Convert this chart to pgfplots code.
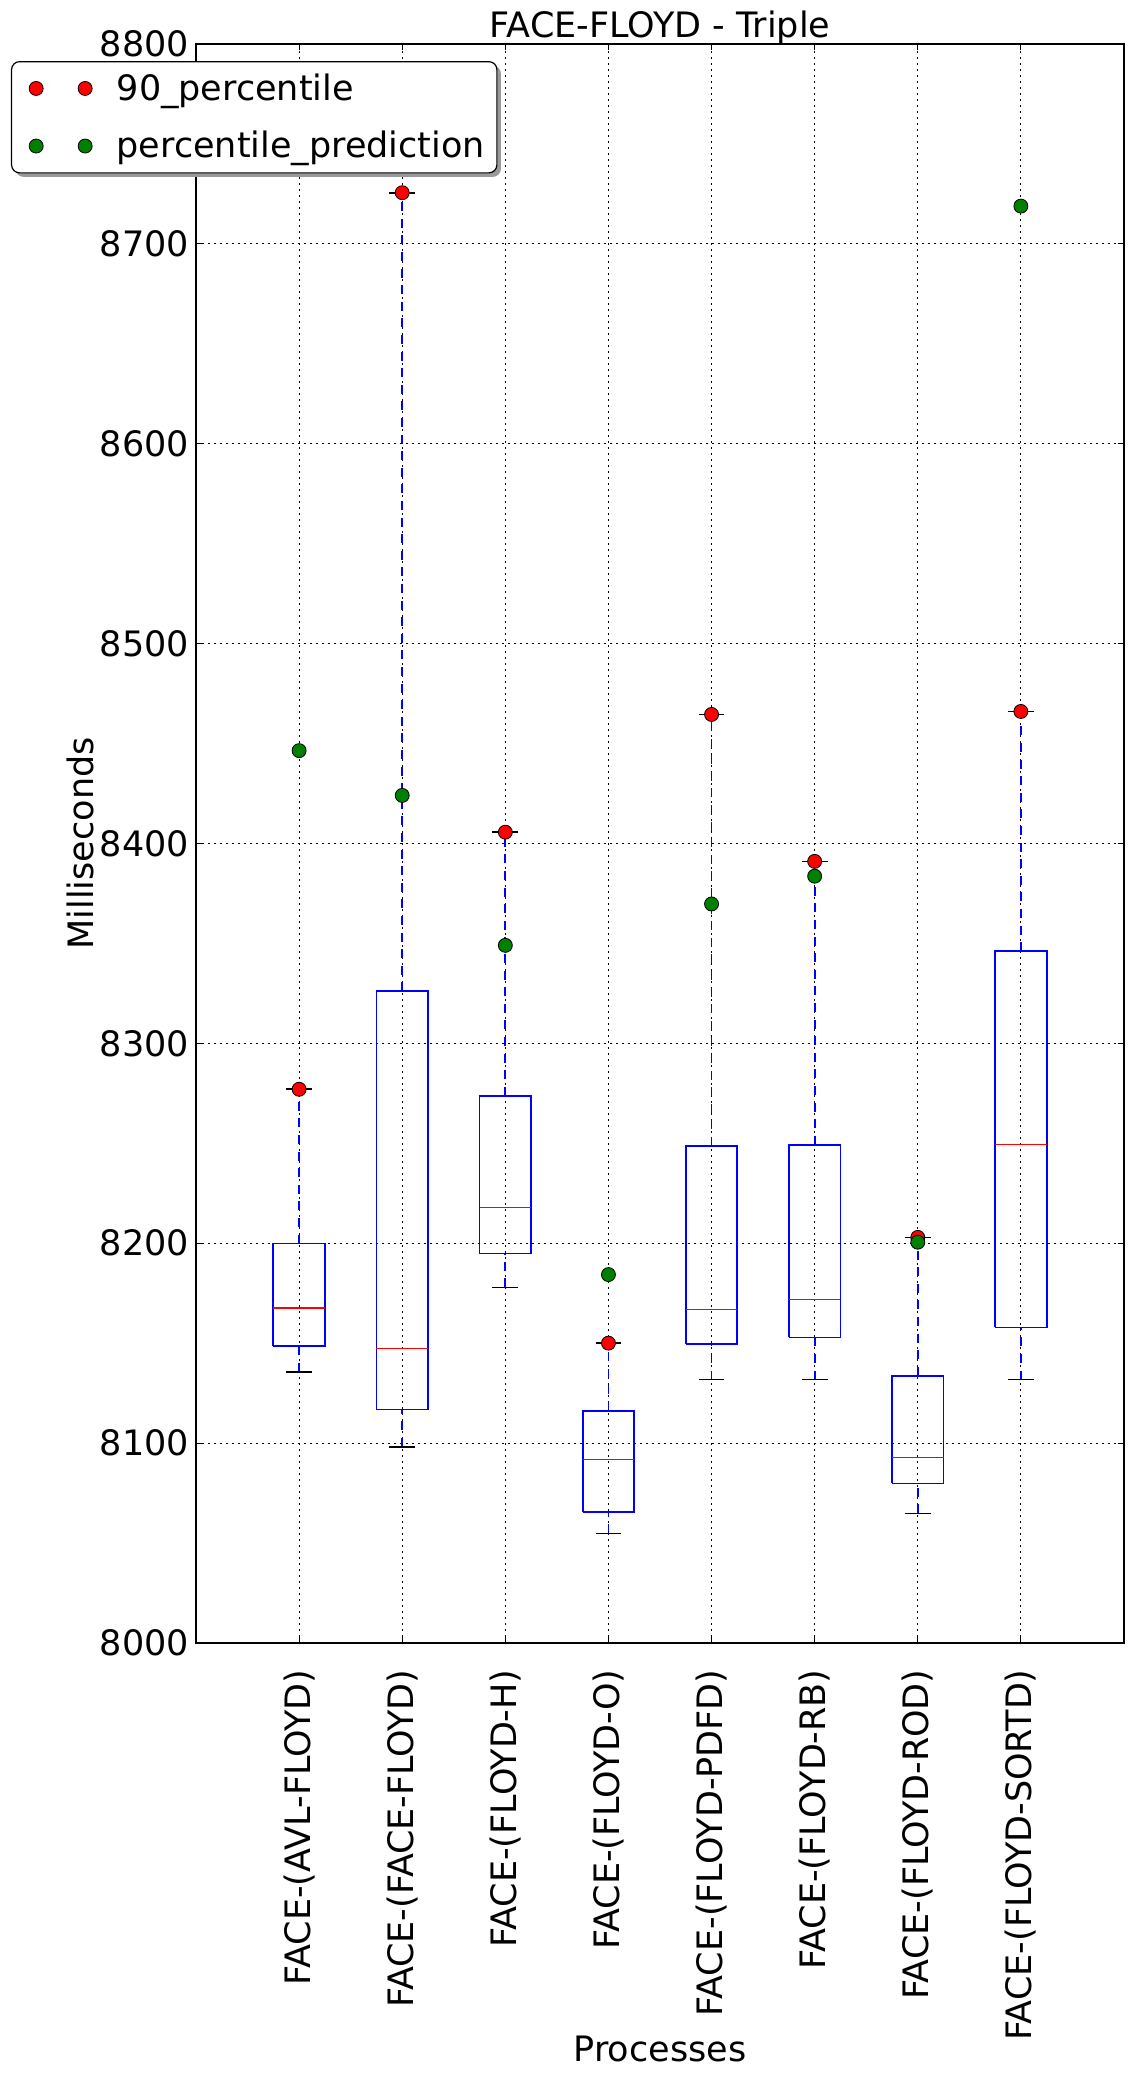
\documentclass[border=0pt]{standalone}
\usepackage{fontspec}
\setmainfont{DejaVu Sans}
\usepackage{pgfplots}
\pgfplotsset{compat=1.18}
\definecolor{mplgreen}{rgb}{0,0.5,0}
\newcommand{\fs}{\fontsize{17.5}{21}\selectfont}
\begin{document}
\begin{tikzpicture}
\useasboundingbox (0,0) rectangle (566.5pt,1039pt);
\begin{axis}[
  at={(98pt,217.5pt)}, anchor=south west,
  scale only axis, width=464pt, height=799.6pt,
  xmin=0, xmax=9, ymin=8000, ymax=8800,
  xtick={1,...,8},
  xticklabels={FACE-(AVL-FLOYD),FACE-(FACE-FLOYD),FACE-(FLOYD-H),FACE-(FLOYD-O),FACE-(FLOYD-PDFD),FACE-(FLOYD-RB),FACE-(FLOYD-ROD),FACE-(FLOYD-SORTD)},
  ytick={8000,8100,...,8800},
  /pgf/number format/assume math mode=true,
  yticklabel style={/pgf/number format/1000 sep={}, font=\fs},
  xticklabel style={rotate=90, anchor=east, font=\fs, inner sep=0pt},
  xticklabel shift=13pt,
  tick align=inside,
  major tick length=3pt,
  tick style={black, line width=0.5pt},
  axis line style={line width=0.85pt},
  grid=major,
  grid style={black, line width=0.45pt, dash pattern=on 0.8pt off 2.2pt},
  unbounded coords=jump,
  title={FACE-FLOYD - Triple},
  every axis title shift=0pt,
  title style={font=\fs, at={(axis description cs:0.5,1)}, anchor=base, inner sep=0pt, yshift=3.3pt},
  xlabel={Processes},
  xlabel style={font=\fs, at={(axis description cs:0.5,-0.254)}, anchor=center},
  ylabel={Milliseconds},
  ylabel style={font=\fs, at={(axis description cs:-0.125,0.5)}, anchor=center},
  legend style={font=\fs, at={(axis description cs:-0.1994,0.9892)}, anchor=north west,
    rounded corners=4pt, draw=black, line width=0.6pt, fill=white,
    preaction={draw=none, fill=black!40, transform canvas={shift={(2pt,-2pt)}}},
    cells={anchor=west}, inner xsep=4pt, inner ysep=4pt, row sep=10pt},
  legend image code/.code={\path (0pt,0pt); \draw[#1] plot coordinates {(8pt,0pt) (32.5pt,0pt)}; \path (46pt,0pt);},
]
% boxes
\addplot[blue, line width=0.85pt, line join=miter, forget plot] coordinates {
(0.75,8148.7) (1.25,8148.7) (1.25,8199.8) (0.75,8199.8) (0.75,8148.7) (1,nan)
(1.75,8116.8) (2.25,8116.8) (2.25,8326.0) (1.75,8326.0) (1.75,8116.8) (2,nan)
(2.75,8194.8) (3.25,8194.8) (3.25,8273.7) (2.75,8273.7) (2.75,8194.8) (3,nan)
(3.75,8065.7) (4.25,8065.7) (4.25,8116.1) (3.75,8116.1) (3.75,8065.7) (4,nan)
(4.75,8149.6) (5.25,8149.6) (5.25,8248.6) (4.75,8248.6) (4.75,8149.6) (5,nan)
(5.75,8152.9) (6.25,8152.9) (6.25,8249.2) (5.75,8249.2) (5.75,8152.9) (6,nan)
(6.75,8079.8) (7.25,8079.8) (7.25,8133.7) (6.75,8133.7) (6.75,8079.8) (7,nan)
(7.75,8157.9) (8.25,8157.9) (8.25,8346.1) (7.75,8346.1) (7.75,8157.9)
};
% whiskers
\addplot[blue, line width=0.85pt, dash pattern=on 4.5pt off 3.8pt, forget plot] coordinates {
(1,8135.7) (1,8148.7) (1,nan) (1,8199.8) (1,8277.0) (1,nan)
(2,8098.0) (2,8116.8) (2,nan) (2,8326.0) (2,8725.5) (2,nan)
(3,8177.9) (3,8194.8) (3,nan) (3,8273.7) (3,8405.6) (3,nan)
(4,8054.8) (4,8065.7) (4,nan) (4,8116.1) (4,8150.0) (4,nan)
(5,8131.8) (5,8149.6) (5,nan) (5,8248.6) (5,8464.5) (5,nan)
(6,8131.8) (6,8152.9) (6,nan) (6,8249.2) (6,8391.0) (6,nan)
(7,8064.8) (7,8079.8) (7,nan) (7,8133.7) (7,8202.9) (7,nan)
(8,8131.8) (8,8157.9) (8,nan) (8,8346.1) (8,8466.0)
};
% caps
\addplot[black, line width=0.85pt, forget plot] coordinates {
(0.875,8135.7) (1.125,8135.7) (1,nan) (0.875,8277.0) (1.125,8277.0) (1,nan)
(1.875,8098.0) (2.125,8098.0) (2,nan) (1.875,8725.5) (2.125,8725.5) (2,nan)
(2.875,8177.9) (3.125,8177.9) (3,nan) (2.875,8405.6) (3.125,8405.6) (3,nan)
(3.875,8054.8) (4.125,8054.8) (4,nan) (3.875,8150.0) (4.125,8150.0) (4,nan)
(4.875,8131.8) (5.125,8131.8) (5,nan) (4.875,8464.5) (5.125,8464.5) (5,nan)
(5.875,8131.8) (6.125,8131.8) (6,nan) (5.875,8391.0) (6.125,8391.0) (6,nan)
(6.875,8064.8) (7.125,8064.8) (7,nan) (6.875,8202.9) (7.125,8202.9) (7,nan)
(7.875,8131.8) (8.125,8131.8) (8,nan) (7.875,8466.0) (8.125,8466.0)
};
% medians
\addplot[red, line width=0.7pt, forget plot] coordinates {
(0.75,8167.5) (1.25,8167.5) (1,nan)
(1.75,8147.4) (2.25,8147.4) (2,nan)
(2.75,8217.9) (3.25,8217.9) (3,nan)
(3.75,8091.8) (4.25,8091.8) (4,nan)
(4.75,8166.8) (5.25,8166.8) (5,nan)
(5.75,8171.8) (6.25,8171.8) (6,nan)
(6.75,8092.9) (7.25,8092.9) (7,nan)
(7.75,8249.3) (8.25,8249.3)
};
\addplot[only marks, mark=*, mark size=3.5pt, mark options={draw=black, fill=red, line width=0.4pt}] coordinates {
(1,8277.0) (2,8725.5) (3,8405.6) (4,8150.0) (5,8464.5) (6,8391.0) (7,8202.9) (8,8466.0)};
\addlegendentry{90\_percentile}
\addplot[only marks, mark=*, mark size=3.5pt, mark options={draw=black, fill=mplgreen, line width=0.4pt}] coordinates {
(1,8446.4) (2,8424.0) (3,8349.0) (4,8184.3) (5,8369.7) (6,8383.6) (7,8200.5) (8,8718.8)};
\addlegendentry{percentile\_prediction}
\end{axis}
\end{tikzpicture}
\end{document}
